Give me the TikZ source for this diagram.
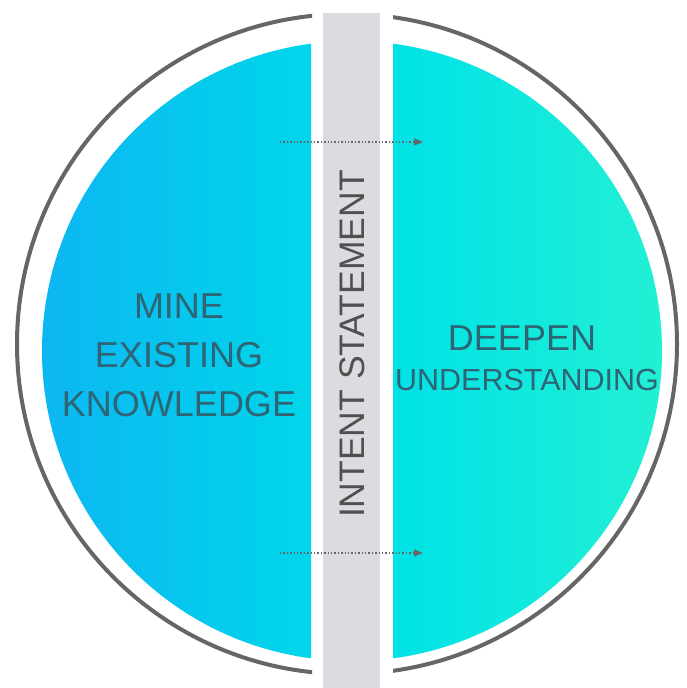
\documentclass[tikz,border=0pt]{standalone}
\usepackage{fontspec}
\setmainfont{Liberation Sans}
\usetikzlibrary{arrows.meta}
\definecolor{ringgray}{HTML}{666666}
\definecolor{bargray}{HTML}{DCDCE0}
\definecolor{leftA}{HTML}{0DB6F2}
\definecolor{leftB}{HTML}{00D6EA}
\definecolor{rightA}{HTML}{00E2E6}
\definecolor{rightB}{HTML}{22F0D4}
\definecolor{txt}{HTML}{2E6474}
\definecolor{vtxt}{HTML}{505050}
\definecolor{arrowgray}{HTML}{666666}
\tikzset{
  lbl/.style={text=txt, align=center, inner sep=0pt},
  flowarrow/.style={draw=arrowgray, line width=1.1pt, dash pattern=on 1.4pt off 2pt, -{Triangle[length=9pt,width=7pt]}}
}
\begin{document}
\begin{tikzpicture}[x=1pt,y=-1pt]
\useasboundingbox (0,0) rectangle (687,688);
\fill[white] (0,0) rectangle (687,688);
% outer ring with gap around bar
\begin{scope}
  \clip (0,0) rectangle (312,688);
  \draw[ringgray, line width=4pt] (347,344) circle[radius=330];
\end{scope}
\begin{scope}
  \clip (393,0) rectangle (687,688);
  \draw[ringgray, line width=4pt] (347,344) circle[radius=330];
\end{scope}
% half fills
\begin{scope}
  \clip (352,351) circle[radius=310];
  \shade[left color=leftA, right color=leftB] (40,0) rectangle (311,688);
  \shade[left color=rightA, right color=rightB] (393,0) rectangle (665,688);
\end{scope}
% central bar
\fill[bargray] (323,13) rectangle (380,688);
% texts
\node[lbl, font=\fontsize{36}{49}\selectfont] (mine) at (179,355) {MINE\\EXISTING\\KNOWLEDGE};
\node[lbl, font=\fontsize{36}{40}\selectfont, anchor=base] (deepen) at (522,350) {DEEPEN};
\node[lbl, font=\fontsize{30.5}{40}\selectfont, anchor=base] (under) at (527,390) {UNDERSTANDING};
\node[text=vtxt, rotate=90, font=\fontsize{35.5}{40}\selectfont, inner sep=0pt] (intent) at (352,344) {INTENT STATEMENT};
% arrows
\coordinate (a1s) at (280,142);
\coordinate (a1e) at (423,142);
\coordinate (a2s) at (280,553);
\coordinate (a2e) at (423,553);
\draw[flowarrow] (a1s) -- (a1e);
\draw[flowarrow] (a2s) -- (a2e);
\end{tikzpicture}
\end{document}
